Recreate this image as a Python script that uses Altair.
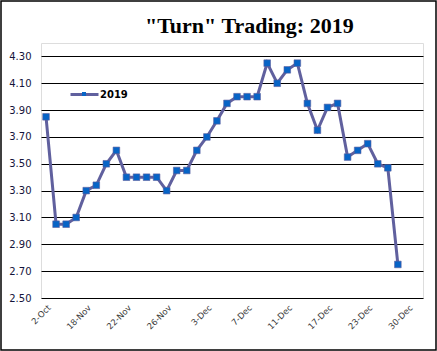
import altair as alt
import pandas as pd

# ---- data ----
series_name = "2019"
prices = [3.85, 3.05, 3.05, 3.10, 3.30, 3.34, 3.50, 3.60, 3.40, 3.40,
          3.40, 3.40, 3.30, 3.45, 3.45, 3.60, 3.70, 3.82, 3.95, 4.00,
          4.00, 4.00, 4.25, 4.10, 4.20, 4.25, 3.95, 3.75, 3.92, 3.95,
          3.55, 3.60, 3.65, 3.50, 3.47, 2.75]
n_categories = 38
tick_every = 4
tick_labels = ["2-Oct", "18-Nov", "22-Nov", "26-Nov", "3-Dec",
               "7-Dec", "11-Dec", "17-Dec", "23-Dec", "30-Dec"]
y_ticks = [2.50, 2.70, 2.90, 3.10, 3.30, 3.50, 3.70, 3.90, 4.10, 4.30]

df = pd.DataFrame({
    "idx": list(range(len(prices))),
    "price": prices,
    "s1": [series_name] * len(prices),
    "s2": [series_name] * len(prices),
})

LINE = "#60609E"
MARK = "#0764C6"

label_arr = "[" + ",".join("'%s'" % t for t in tick_labels) + "]"

x_enc = alt.X(
    "idx:Q",
    scale=alt.Scale(domain=[-0.5, n_categories - 0.5], nice=False, zero=False),
    axis=alt.Axis(
        values=list(range(0, n_categories, tick_every))[: len(tick_labels)],
        labelExpr=label_arr + "[round(datum.value/%d)]" % tick_every,
        labelAngle=-45, labelAlign="right", labelBaseline="top",
        labelFontSize=8.5, labelFont="DejaVu Sans", labelColor="#3a3a3a",
        labelPadding=5, ticks=False, domain=False, grid=False, title=None,
    ),
)
y_enc = alt.Y(
    "price:Q",
    scale=alt.Scale(domain=[2.5, 4.4], nice=False, zero=False),
    axis=alt.Axis(
        values=y_ticks, format=".2f", grid=True, gridColor="#000000",
        gridWidth=1, ticks=False, domain=False, title=None,
        labelFontSize=10, labelFont="DejaVu Sans", labelColor="#14143a",
        labelPadding=10,
    ),
)

line = alt.Chart(df).mark_line(strokeWidth=3).encode(
    x=x_enc, y=y_enc,
    stroke=alt.Stroke(
        "s1:N", scale=alt.Scale(range=[LINE]),
        legend=alt.Legend(
            orient="none", legendX=28, legendY=36, title=None,
            symbolType="stroke", symbolSize=784, symbolStrokeWidth=3,
            labelFontSize=10, labelFontWeight="bold", labelFont="DejaVu Sans",
            labelColor="#000000", labelOffset=0, padding=0,
        ),
    ),
)

points = alt.Chart(df).mark_point(
    filled=True, size=44, fill=MARK, stroke=LINE, strokeWidth=0.6, opacity=1
).encode(
    x=x_enc, y=y_enc,
    shape=alt.Shape(
        "s2:N", scale=alt.Scale(range=["square"]),
        legend=alt.Legend(
            orient="none", legendX=38, legendY=46, title=None,
            symbolSize=16, symbolFillColor=MARK, symbolStrokeWidth=0,
            labelFontSize=10, labelExpr="''", padding=0,
        ),
    ),
)

frame = alt.Chart(alt.Data(values=[{}])).mark_rect(
    fill=None, stroke="#000000", strokeWidth=1.5, clip=False
).encode(
    x=alt.value(-40), x2=alt.value(395), y=alt.value(-42), y2=alt.value(307)
)

chart = alt.layer(line, points, frame).resolve_legend(
    stroke="independent", shape="independent"
).properties(
    width=382, height=255,
    autosize=alt.AutoSizeParams(type="none"),
    padding={"left": 41, "top": 43, "right": 14, "bottom": 53},
    title=alt.TitleParams(
        '"Turn" Trading: 2019', font="Liberation Serif", fontSize=22,
        fontWeight="bold", color="#000000", anchor="start", frame="group",
        dx=104, offset=-55, baseline="alphabetic",
    ),
).configure_view(stroke="#000000", strokeWidth=1.2).configure(background="#ffffff")

chart.save("out.html", embed_options={"renderer": "svg", "actions": False})
